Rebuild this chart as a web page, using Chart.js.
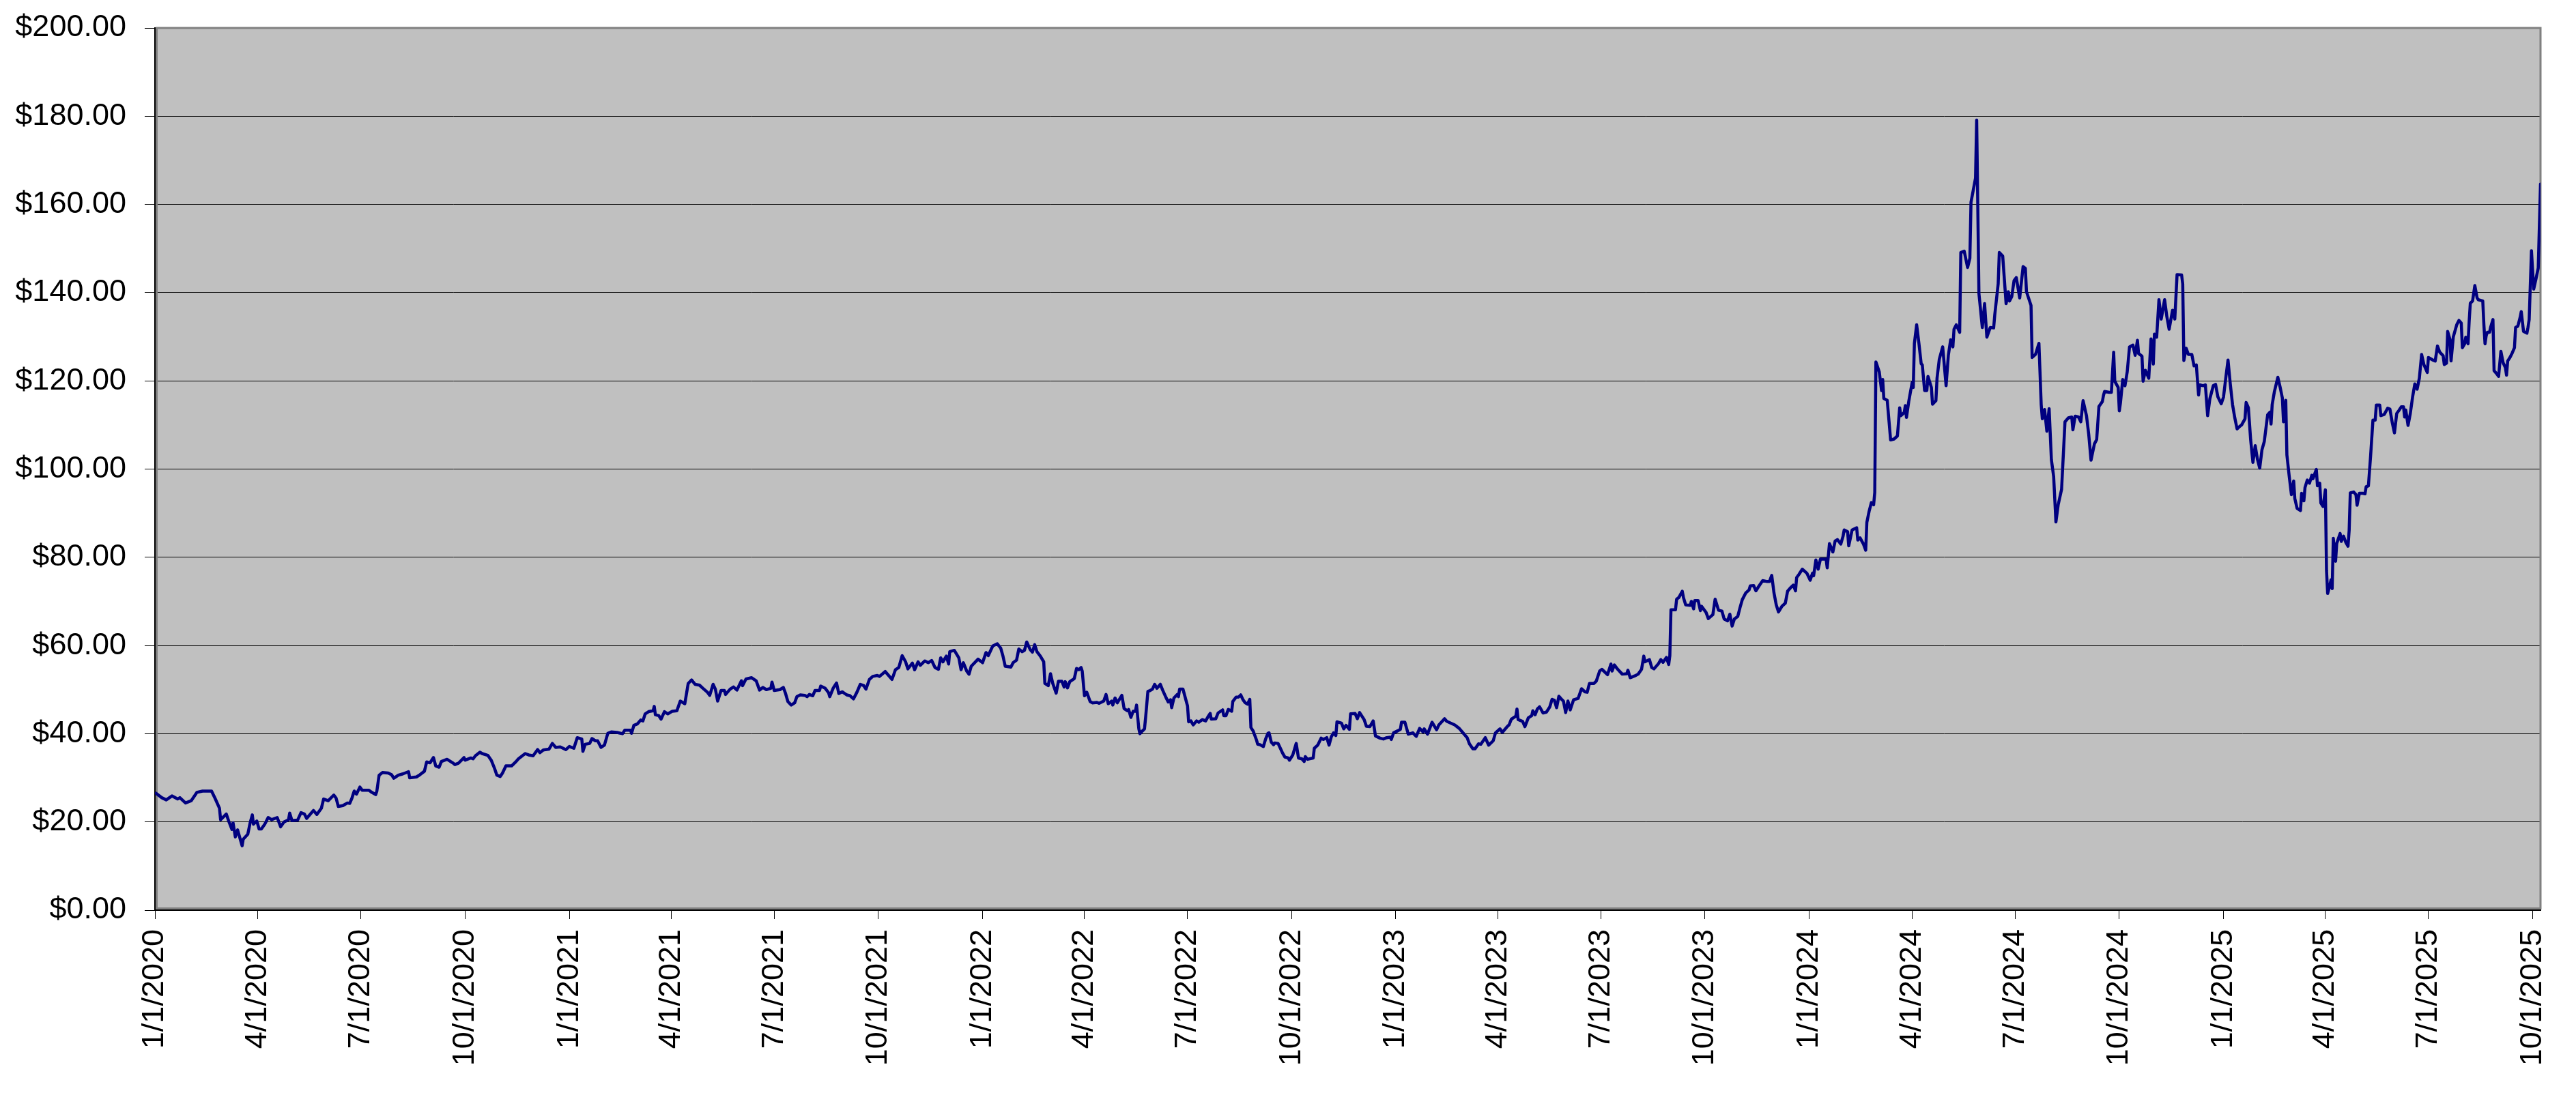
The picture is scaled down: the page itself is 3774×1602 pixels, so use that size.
<!DOCTYPE html>
<html>
<head>
<meta charset="utf-8">
<script src="https://cdn.jsdelivr.net/npm/chart.js@4.4.1/dist/chart.umd.min.js"></script>
<style>
  html, body { margin: 0; padding: 0; background: #ffffff; }
  #wrap { width: 3774px; height: 1602px; }
  canvas { display: block; }
</style>
</head>
<body>
<div id="wrap"><canvas id="c" width="3774" height="1602"></canvas></div>
<script>
// Tick labels on the date axis (quarter starts)
const tickLabels = ["1/1/2020","4/1/2020","7/1/2020","10/1/2020","1/1/2021","4/1/2021","7/1/2021","10/1/2021",
  "1/1/2022","4/1/2022","7/1/2022","10/1/2022","1/1/2023","4/1/2023","7/1/2023","10/1/2023",
  "1/1/2024","4/1/2024","7/1/2024","10/1/2024","1/1/2025","4/1/2025","7/1/2025","10/1/2025"];

// Price axis ticks
const priceTicks = [0, 20, 40, 60, 80, 100, 120, 140, 160, 180, 200];

// Dates of the series, as days since 1/1/2020
const days = [
1,6,10,15,20,22,27,32,37,42,50,53,57,58,63,65,68,69,71,73,77,78,82,84,86,87,90,92,94,97,
100,103,108,111,114,118,119,121,126,129,132,134,140,143,147,149,153,158,160,162,166,170,172,174,176,178,181,183,189,191,
195,196,198,201,206,209,211,215,219,224,225,231,234,238,240,243,246,248,251,253,258,263,265,268,273,274,279,281,283,287,
289,294,297,300,302,305,307,310,315,319,321,327,330,334,338,340,343,348,351,354,358,363,
366,370,373,377,378,380,384,386,389,391,394,397,400,403,408,413,415,420,421,423,426,429,431,433,436,440,441,442,445,447,
450,453,457,461,464,468,471,474,477,481,484,488,490,493,495,497,500,503,504,508,511,514,518,519,522,527,531,534,537,540,
544,545,547,552,555,557,559,562,565,567,570,574,576,578,581,583,587,588,592,595,596,599,602,604,607,611,614,617,620,623,
626,628,631,634,638,640,645,648,651,654,657,660,663,665,669,671,674,676,680,683,686,689,692,694,696,699,701,702,706,710,
712,714,717,719,721,727,731,
734,736,740,744,747,749,751,756,758,761,763,766,768,770,773,775,777,779,782,785,786,789,791,793,796,798,801,803,804,806,
808,812,814,816,818,819,821,823,826,828,832,834,838,840,842,845,846,848,850,854,856,859,860,862,864,866,867,869,870,872,
874,875,877,879,881,883,885,888,890,893,895,897,898,900,903,904,905,908,912,913,915,917,920,922,925,928,930,932,933,937,
939,943,944,946,948,951,952,955,957,959,961,963,965,967,968,970,973,974,976,979,981,983,984,986,988,989,992,994,996,998,
1001,1002,1005,1008,1010,1013,1015,1016,1018,1023,1024,1027,1030,1032,1035,1037,1039,1041,1043,1044,1048,1050,1052,1055,1056,1060,1062,1064,1068,1070,
1073,1076,1078,1082,1085,1088,1091,1092,1094,1098,1100,1101,1104,1107,1111,1114,1117,1120,1121,1124,1128,1132,1134,1139,1141,1148,1152,1155,1159,1161,
1164,1166,1169,1171,1175,1178,1182,1184,1188,1190,1194,1196,1198,1202,1203,1204,1208,1210,1213,1216,1217,1219,1221,1223,1226,1229,1232,1234,1236,1238,
1240,1242,1244,1246,1248,1250,1253,1257,1260,1263,1265,1267,1271,1273,1276,1278,1283,1286,1287,1289,1292,1296,1300,1301,1303,1307,1310,1313,1315,1316,
1320,1322,1324,1328,1330,1332,1335,1337,1338,1339,1343,1344,1346,1349,1350,1352,1356,1357,1359,1360,1363,1365,1366,1370,1372,1376,1378,1381,1384,1386,
1389,1391,1393,1395,1398,1400,1402,1405,1408,1409,1412,1414,1417,1420,1424,1426,1428,1430,1432,1434,1437,1440,1442,1445,1447,1449,1450,1452,1455,
1459,1462,1464,1465,1467,1469,1471,1476,1477,1479,1482,1484,1486,1489,1491,1492,1495,1496,1499,1503,1504,1506,1509,1511,1512,1514,1516,1518,1519,1520,
1523,1525,1526,1527,1530,1533,1536,1539,1541,1542,1545,1546,1547,1549,1552,1553,1554,1556,1558,1560,1561,1563,1565,1566,1569,1570,1573,1574,1576,1579,
1582,1584,1586,1588,1589,1591,1594,1595,1598,1601,1603,1604,1608,1609,1611,1614,1616,1618,1621,1624,1625,1628,1629,1632,1635,1637,1638,1640,1642,1644,
1647,1650,1652,1653,1657,1658,1661,1664,1666,1667,1669,1671,1673,1675,1677,1679,1681,1684,1687,1690,1693,1694,1696,1699,1701,1703,1706,1708,1710,1713,
1715,1717,1720,1721,1722,1726,1728,1730,1731,1734,1735,1736,1738,1740,1742,1744,1747,1749,1751,1752,1755,1756,1758,1761,1763,1765,1766,1768,1770,1772,
1775,1777,1779,1782,1784,1786,1790,1791,1792,1794,1796,1799,1801,1803,1805,1806,1809,1811,1813,1815,1818,1820,1822,1825,1827,
1829,1831,1833,1835,1837,1839,1841,1843,1846,1847,1849,1851,1853,1855,1857,1859,1861,1863,1866,1868,1869,1870,1872,1875,1877,1879,1880,1882,1883,1885,
1887,1889,1890,1892,1895,1896,1898,1899,1901,1903,1905,1906,1909,1910,1912,1913,1915,1917,1918,1919,1921,1922,1923,1924,1926,1927,1930,1931,1933,1935,
1937,1938,1939,1942,1944,1945,1947,1950,1952,1953,1955,1957,1959,1961,1962,1965,1966,1969,1972,1974,1976,1978,1980,1982,1984,1986,1987,1988,1990,1992,
1994,1996,1998,2000,2002,2004,2007,2008,2012,2014,2016,2018,2021,2022,2024,2025,2027,2028,2030,2033,2035,2037,2038,2040,2041,2043,2044,2045,2047,2049,
2051,2052,2056,2057,2058,2059,2060,2062,2063,2065,2066,2068,2070,2072,2074,2076,2077,2078,2080,2082,2084,2085,2087,2089,2090,2092,2095,2096,2097,2099,
2101,2103,2105,2107
];

// Closing price ($) for each date above
const prices = [
26.5,25.5,25.0,25.9,25.2,25.5,24.3,24.8,26.7,27.0,27.0,25.4,23.1,20.5,21.8,20.3,18.3,19.8,16.6,18.2,14.6,16.1,17.2,19.7,21.6,19.5,20.2,18.4,18.4,19.5,
21.0,20.5,21.0,18.9,20.0,20.5,22.0,20.3,20.4,22.1,21.8,20.8,22.6,21.7,23.1,25.2,24.8,26.1,25.4,23.5,23.7,24.3,24.2,25.4,27.0,26.3,27.9,27.2,27.2,26.8,
26.2,27.0,30.6,31.2,31.1,30.7,29.9,30.6,30.9,31.4,30.0,30.2,30.7,31.5,33.6,33.4,34.6,32.7,32.4,33.7,34.2,33.4,33.0,33.3,34.6,34.0,34.5,34.3,35.0,35.8,
35.5,35.1,34.0,32.1,30.6,30.3,31.1,32.7,32.7,33.7,34.3,35.5,35.2,35.0,36.4,35.7,36.3,36.5,37.8,36.9,37.0,36.4,
37.1,36.7,39.1,38.8,36.0,37.6,37.8,38.9,38.4,38.4,36.9,37.4,40.1,40.4,40.3,40.0,40.8,40.8,40.1,41.9,42.2,43.1,42.9,44.5,45.0,45.2,46.2,44.3,44.1,43.3,
45.0,44.5,45.1,45.2,47.4,46.8,51.4,52.2,51.2,51.0,50.3,49.4,48.7,51.2,50.1,47.4,49.8,49.8,48.9,50.1,50.6,49.9,52.0,50.9,52.4,52.7,52.0,49.9,50.5,50.0,
50.3,51.7,49.8,50.0,50.5,49.1,47.3,46.5,47.0,48.4,48.8,48.7,48.4,48.9,48.6,49.8,49.8,50.8,50.3,49.3,48.4,50.3,51.5,49.1,49.5,48.8,48.6,47.9,49.4,51.2,
50.9,50.1,52.3,53.0,53.2,53.0,54.1,53.2,52.3,54.5,55.0,57.7,56.3,54.7,56.0,54.5,56.3,55.5,56.5,56.1,56.6,55.0,54.6,57.2,56.3,57.6,55.8,58.6,58.9,57.2,
54.5,56.1,54.2,53.5,55.3,56.9,56.1,
58.4,57.7,59.9,60.4,59.4,57.6,55.3,55.1,56.1,56.7,59.2,58.6,58.9,60.8,59.1,58.5,60.2,58.6,57.6,56.3,51.4,50.9,53.6,51.4,49.2,51.9,51.9,50.6,51.8,50.4,
51.8,52.5,54.8,54.5,55.0,54.2,48.6,49.4,47.3,47.0,47.1,46.9,47.4,48.9,46.8,47.4,46.5,48.1,47.0,48.7,45.7,45.2,45.5,43.7,45.1,45.1,46.5,41.1,40.0,40.6,
41.1,43.7,49.6,49.8,50.1,51.2,50.3,51.2,49.9,48.2,47.2,47.7,45.9,48.1,48.9,48.4,50.1,50.1,46.3,42.7,42.9,42.0,42.9,42.6,43.2,42.9,43.8,44.6,43.3,43.4,
44.7,45.4,44.1,44.1,45.5,45.1,47.3,48.3,48.3,48.8,47.7,47.0,46.7,47.8,41.4,40.6,38.5,37.6,37.5,37.1,38.8,40.1,40.2,38.1,37.5,37.9,37.8,36.7,35.6,34.7,
34.5,34.0,35.2,37.8,34.5,34.3,33.7,34.8,34.2,34.5,36.7,37.4,39.0,38.7,39.1,37.4,39.3,40.2,39.6,42.7,42.4,41.1,41.9,41.0,44.5,44.6,43.4,44.8,43.2,41.7,
41.6,42.9,39.5,39.0,38.8,39.1,39.2,38.7,40.2,40.7,41.0,42.6,42.6,39.9,40.2,39.4,41.2,40.4,41.1,39.9,42.6,40.9,42.0,43.4,42.8,42.0,41.2,40.3,39.1,37.7,
36.6,36.6,37.7,37.6,39.1,37.4,38.4,40.2,41.1,40.3,41.5,42.0,43.3,44.0,45.6,43.2,42.8,41.6,43.6,44.1,45.2,44.3,45.6,46.1,44.7,44.9,46.1,47.8,47.6,45.9,
48.5,47.9,47.4,44.8,47.4,45.4,47.7,48.0,50.2,49.5,49.4,51.4,51.4,51.9,54.2,54.6,53.4,55.8,54.2,55.6,54.6,53.5,53.6,54.4,52.7,53.1,53.5,54.6,57.6,56.3,
56.8,55.0,54.7,55.9,56.8,56.2,57.3,55.7,57.7,68.1,68.1,70.5,70.9,72.3,70.9,69.2,69.1,70.0,68.3,70.2,70.2,67.9,68.9,67.5,66.1,67.0,70.5,68.0,67.8,66.0,
65.6,67.1,64.4,66.0,66.6,68.6,70.4,71.9,72.6,73.5,73.6,72.4,73.6,74.7,74.5,74.5,75.9,71.9,69.2,67.6,68.9,69.6,72.3,73.2,73.7,72.4,75.4,76.1,77.3,
76.4,74.8,76.4,75.8,79.4,77.3,79.6,79.6,77.6,83.1,81.2,83.7,84.0,83.0,84.8,86.2,85.8,82.6,86.2,86.7,83.9,84.4,83.0,81.6,87.9,90.4,92.4,91.9,94.7,124.3,
122.0,117.8,120.3,116.0,115.6,106.6,106.8,107.5,113.9,112.1,112.8,114.4,111.7,115.3,119.6,118.5,128.5,132.7,128.5,123.9,123.6,117.8,117.8,121.0,118.5,114.7,115.5,120.6,124.9,127.7,
118.9,125.8,129.3,127.7,131.7,132.7,131.0,149.1,149.4,145.7,147.8,160.5,166.0,179.1,139.8,132.1,137.5,129.9,132.1,132.0,135.0,142.0,149.1,148.3,137.5,140.2,138.1,139.1,142.7,143.4,
138.8,145.9,145.5,140.2,137.1,125.3,126.0,128.5,114.6,111.4,113.5,108.6,113.7,102.1,98.3,88.0,91.9,95.4,110.7,111.6,111.8,108.9,112.0,111.8,110.7,115.5,112.1,107.8,102.0,105.7,
106.7,114.2,115.3,116.7,117.6,117.4,117.4,126.5,119.9,118.5,113.2,115.0,120.3,118.9,122.1,127.7,128.1,125.8,129.2,126.2,125.6,119.9,122.4,120.6,129.5,123.8,130.6,129.9,138.4,134.0,
138.4,134.5,131.7,136.0,134.0,144.1,144.0,142.0,124.6,127.4,126.0,126.0,123.4,123.6,116.8,119.1,118.9,119.1,112.1,116.0,118.9,119.2,116.4,114.8,116.3,
120.6,124.7,119.3,114.6,111.6,109.1,109.6,110.0,111.4,115.1,113.9,106.6,101.5,105.3,102.2,100.2,104.4,106.2,112.3,112.9,110.2,114.6,117.6,120.8,118.6,116.1,110.7,115.6,103.2,98.5,
94.2,97.3,93.3,91.1,90.6,94.5,92.8,95.8,97.5,96.8,98.6,97.8,99.9,96.2,96.8,92.3,91.5,95.3,77.0,71.8,73.7,74.9,72.9,84.3,79.1,83.1,85.4,83.6,84.8,83.4,
82.5,86.1,94.6,94.8,94.2,91.8,94.5,94.5,94.4,96.0,96.2,103.2,111.1,111.1,114.5,114.5,112.1,112.4,113.8,113.6,110.6,108.2,112.6,113.3,114.1,114.1,111.8,113.4,109.9,112.6,
116.3,119.3,118.1,120.6,126.0,123.7,121.9,125.3,124.7,124.5,127.9,126.5,125.7,123.7,124.0,131.2,129.4,124.5,130.0,132.7,133.7,133.1,127.5,128.4,129.9,128.4,133.5,137.6,138.1,141.6,
138.8,138.4,138.1,132.7,128.4,130.2,131.0,131.0,132.2,133.9,122.3,121.7,121.0,126.7,124.1,123.0,121.3,124.5,125.3,126.3,127.5,132.1,132.4,134.4,135.7,131.2,130.8,132.2,133.9,149.5,
140.8,143.1,145.6,164.6
];

// ---- build chart ----
function dayOf(label) {
  const [m, d, y] = label.split('/').map(Number);
  return Math.round((Date.UTC(y, m - 1, d) - Date.UTC(2020, 0, 1)) / 86400000);
}
const tickDays = tickLabels.map(dayOf);
const labelByDay = {};
tickDays.forEach((v, i) => { labelByDay[v] = tickLabels[i]; });

const n = Math.min(days.length, prices.length);
const points = [];
for (let i = 0; i < n; i++) points.push({ x: days[i], y: prices[i] });

const FONT = '"Liberation Sans", Arial, Helvetica, sans-serif';

const plotFrame = {
  id: 'plotFrame',
  beforeDraw(chart) {
    const { ctx, chartArea: a } = chart;
    ctx.save();
    ctx.fillStyle = '#C0C0C0';
    ctx.fillRect(a.left, a.top, a.right - a.left, a.bottom - a.top);
    ctx.restore();
  },
  beforeDatasetsDraw(chart) {
    const { ctx, chartArea: a } = chart;
    ctx.save();
    ctx.strokeStyle = '#808080';
    ctx.lineWidth = 3;
    ctx.beginPath();
    ctx.moveTo(a.left + 2.5, a.bottom - 2.5);
    ctx.lineTo(a.left + 2.5, a.top);
    ctx.lineTo(a.right, a.top);
    ctx.lineTo(a.right, a.bottom - 2.5);
    ctx.closePath();
    ctx.stroke();
    ctx.restore();
  }
};

function noPad(axis) {
  axis.paddingTop = 0; axis.paddingBottom = 0;
  axis.paddingLeft = 0; axis.paddingRight = 0;
}

new Chart(document.getElementById('c'), {
  type: 'line',
  data: {
    datasets: [{
      data: points,
      borderColor: '#000080',
      borderWidth: 4.5,
      borderJoinStyle: 'round',
      borderCapStyle: 'round',
      pointRadius: 0,
      pointHoverRadius: 0,
      tension: 0,
      fill: false
    }]
  },
  options: {
    responsive: false,
    animation: false,
    devicePixelRatio: 1,
    parsing: false,
    normalized: true,
    layout: { padding: { top: 41, right: 52, left: 0, bottom: 0 } },
    plugins: { legend: { display: false }, tooltip: { enabled: false }, title: { display: false } },
    scales: {
      x: {
        type: 'linear',
        min: 0,
        max: days[n - 1],
        afterBuildTicks(axis) { axis.ticks = tickDays.map(v => ({ value: v })); },
        afterFit(axis) { axis.height = 268; noPad(axis); },
        grid: { drawOnChartArea: false, drawTicks: true, tickLength: 13, tickColor: '#000000', tickWidth: 1 },
        border: { display: true, color: '#000000', width: 2 },
        ticks: {
          autoSkip: false,
          minRotation: 90,
          maxRotation: 90,
          padding: 15,
          color: '#000000',
          font: { family: FONT, size: 45 },
          callback: (v) => labelByDay[v] || ''
        }
      },
      y: {
        type: 'linear',
        min: 0,
        max: 200,
        afterBuildTicks(axis) { axis.ticks = priceTicks.map(v => ({ value: v })); },
        afterFit(axis) { axis.width = 227; noPad(axis); },
        grid: { drawOnChartArea: true, color: '#000000', lineWidth: 1, drawTicks: true, tickLength: 15, tickColor: '#000000' },
        border: { display: true, color: '#000000', width: 2 },
        ticks: {
          padding: 27,
          color: '#000000',
          font: { family: FONT, size: 45 },
          callback: (v) => '$' + Number(v).toFixed(2)
        }
      }
    }
  },
  plugins: [plotFrame]
});
</script>
</body>
</html>
